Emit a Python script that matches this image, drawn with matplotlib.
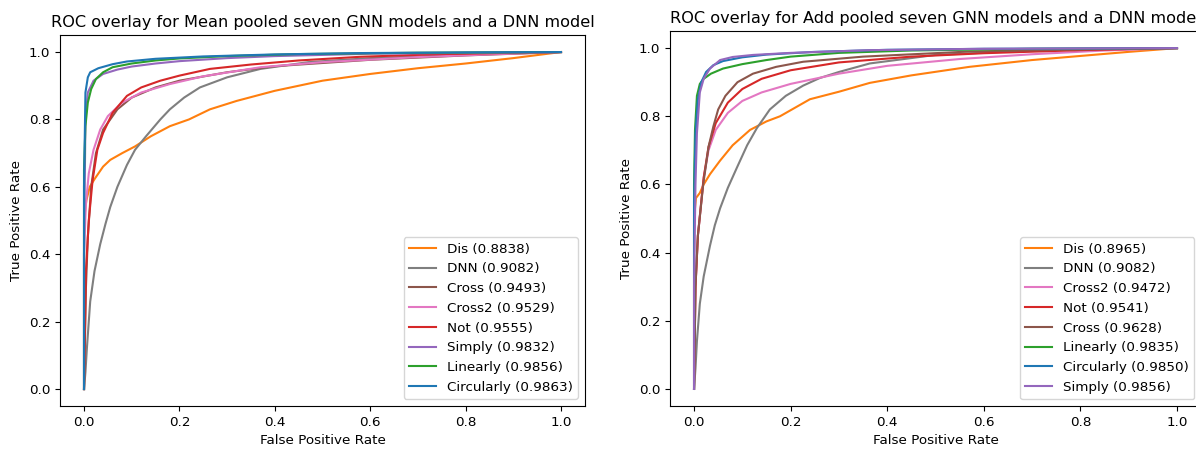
import matplotlib
matplotlib.use("Agg")
import matplotlib.pyplot as plt

plt.rcParams["font.size"] = 9.7
plt.rcParams["axes.titlesize"] = 11.6

# ---- Mean pooled (left) ----
mean_labels = ["Dis (0.8838)", "DNN (0.9082)", "Cross (0.9493)", "Cross2 (0.9529)",
               "Not (0.9555)", "Simply (0.9832)", "Linearly (0.9856)", "Circularly (0.9863)"]
mean_colors = ["#ff7f0e", "#7f7f7f", "#8c564b", "#e377c2", "#d62728", "#9467bd", "#2ca02c", "#1f77b4"]

mean_dis_fpr = [0, 0, 0.005, 0.012, 0.023, 0.04, 0.055, 0.08, 0.107, 0.14, 0.18, 0.22, 0.264, 0.32, 0.4, 0.5, 0.6, 0.7, 0.8, 0.9, 1.0]
mean_dis_tpr = [0, 0.5, 0.56, 0.6, 0.625, 0.66, 0.68, 0.70, 0.72, 0.75, 0.78, 0.80, 0.83, 0.855, 0.885, 0.915, 0.935, 0.952, 0.966, 0.982, 1.0]

mean_dnn_fpr = [0, 0.003, 0.006, 0.013, 0.022, 0.034, 0.045, 0.055, 0.07, 0.09, 0.107, 0.13, 0.16, 0.18, 0.21, 0.243, 0.30, 0.37, 0.47, 0.6, 0.8, 1.0]
mean_dnn_tpr = [0, 0.05, 0.12, 0.26, 0.35, 0.43, 0.49, 0.54, 0.6, 0.665, 0.71, 0.75, 0.80, 0.83, 0.865, 0.895, 0.925, 0.95, 0.97, 0.982, 0.992, 1.0]

mean_cross_fpr = [0, 0.004, 0.008, 0.015, 0.025, 0.04, 0.07, 0.1, 0.15, 0.2, 0.3, 0.4, 0.6, 0.8, 1.0]
mean_cross_tpr = [0, 0.3, 0.45, 0.6, 0.7, 0.77, 0.83, 0.865, 0.895, 0.915, 0.94, 0.958, 0.977, 0.99, 1.0]

mean_cross2_fpr = [0, 0, 0.004, 0.01, 0.02, 0.034, 0.05, 0.08, 0.12, 0.18, 0.25, 0.37, 0.5, 0.7, 0.85, 1.0]
mean_cross2_tpr = [0, 0.4, 0.55, 0.64, 0.71, 0.77, 0.81, 0.85, 0.88, 0.905, 0.928, 0.955, 0.97, 0.985, 0.993, 1.0]

mean_not_fpr = [0, 0.004, 0.01, 0.018, 0.028, 0.04, 0.06, 0.09, 0.12, 0.16, 0.2, 0.264, 0.35, 0.45, 0.58, 0.75, 1.0]
mean_not_tpr = [0, 0.35, 0.5, 0.62, 0.71, 0.76, 0.82, 0.87, 0.895, 0.915, 0.93, 0.95, 0.963, 0.975, 0.986, 0.994, 1.0]

mean_simply_fpr = [0, 0, 0.003, 0.008, 0.02, 0.04, 0.07, 0.1, 0.15, 0.2, 0.3, 0.4, 0.6, 1.0]
mean_simply_tpr = [0, 0.4, 0.8, 0.88, 0.915, 0.935, 0.948, 0.957, 0.966, 0.973, 0.982, 0.988, 0.995, 1.0]

mean_linearly_fpr = [0, 0, 0.003, 0.008, 0.015, 0.025, 0.04, 0.06, 0.1, 0.15, 0.2, 0.3, 0.45, 0.7, 1.0]
mean_linearly_tpr = [0, 0.65, 0.78, 0.85, 0.89, 0.92, 0.94, 0.955, 0.966, 0.975, 0.981, 0.988, 0.994, 0.998, 1.0]

mean_circ_fpr = [0, 0, 0.003, 0.008, 0.013, 0.03, 0.06, 0.09, 0.15, 0.25, 0.4, 0.58, 0.8, 1.0]
mean_circ_tpr = [0, 0.6, 0.88, 0.925, 0.94, 0.952, 0.964, 0.972, 0.98, 0.987, 0.993, 0.997, 0.999, 1.0]

# ---- Add pooled (right) ----
add_labels = ["Dis (0.8965)", "DNN (0.9082)", "Cross2 (0.9472)", "Not (0.9541)",
              "Cross (0.9628)", "Linearly (0.9835)", "Circularly (0.9850)", "Simply (0.9856)"]
add_colors = ["#ff7f0e", "#7f7f7f", "#e377c2", "#d62728", "#8c564b", "#2ca02c", "#1f77b4", "#9467bd"]

add_dis_fpr = [0, 0, 0.004, 0.012, 0.02, 0.033, 0.054, 0.08, 0.116, 0.15, 0.178, 0.24, 0.3, 0.364, 0.45, 0.57, 0.7, 0.8, 0.9, 1.0]
add_dis_tpr = [0, 0.5, 0.56, 0.575, 0.6, 0.63, 0.67, 0.715, 0.76, 0.785, 0.80, 0.85, 0.872, 0.898, 0.92, 0.945, 0.965, 0.977, 0.989, 1.0]

add_dnn_fpr = [0, 0.003, 0.006, 0.012, 0.02, 0.033, 0.043, 0.054, 0.07, 0.089, 0.11, 0.13, 0.157, 0.19, 0.226, 0.26, 0.3, 0.364, 0.5, 0.7, 1.0]
add_dnn_tpr = [0, 0.06, 0.14, 0.25, 0.33, 0.42, 0.48, 0.53, 0.59, 0.65, 0.715, 0.765, 0.82, 0.86, 0.89, 0.912, 0.93, 0.955, 0.98, 0.993, 1.0]

add_cross2_fpr = [0, 0.003, 0.008, 0.02, 0.03, 0.045, 0.07, 0.1, 0.14, 0.2, 0.3, 0.4, 0.55, 0.7, 0.85, 1.0]
add_cross2_tpr = [0, 0.3, 0.45, 0.62, 0.7, 0.76, 0.81, 0.845, 0.87, 0.895, 0.925, 0.948, 0.968, 0.982, 0.993, 1.0]

add_not_fpr = [0, 0.003, 0.008, 0.02, 0.03, 0.045, 0.07, 0.1, 0.14, 0.2, 0.3, 0.45, 0.6, 0.8, 1.0]
add_not_tpr = [0, 0.3, 0.45, 0.62, 0.71, 0.78, 0.84, 0.88, 0.91, 0.935, 0.958, 0.975, 0.985, 0.994, 1.0]

add_cross_fpr = [0, 0.003, 0.008, 0.019, 0.03, 0.04, 0.05, 0.065, 0.09, 0.122, 0.17, 0.226, 0.35, 0.57, 0.8, 1.0]
add_cross_tpr = [0, 0.3, 0.45, 0.6, 0.71, 0.77, 0.82, 0.86, 0.9, 0.925, 0.945, 0.96, 0.975, 0.99, 0.996, 1.0]

add_lin_fpr = [0, 0, 0.002, 0.006, 0.012, 0.02, 0.035, 0.06, 0.1, 0.15, 0.2, 0.3, 0.45, 0.7, 1.0]
add_lin_tpr = [0, 0.6, 0.76, 0.86, 0.895, 0.91, 0.925, 0.94, 0.953, 0.965, 0.975, 0.986, 0.993, 0.998, 1.0]

add_circ_fpr = [0, 0, 0.003, 0.008, 0.015, 0.025, 0.04, 0.06, 0.1, 0.15, 0.25, 0.4, 0.6, 1.0]
add_circ_tpr = [0, 0.55, 0.75, 0.85, 0.9, 0.93, 0.95, 0.962, 0.973, 0.981, 0.989, 0.995, 0.998, 1.0]

add_simply_fpr = [0, 0, 0.003, 0.006, 0.012, 0.02, 0.033, 0.054, 0.08, 0.122, 0.2, 0.364, 0.6, 1.0]
add_simply_tpr = [0, 0.3, 0.6, 0.75, 0.87, 0.91, 0.94, 0.965, 0.974, 0.98, 0.986, 0.994, 0.998, 1.0]

mean_fprs = [mean_dis_fpr, mean_dnn_fpr, mean_cross_fpr, mean_cross2_fpr, mean_not_fpr,
             mean_simply_fpr, mean_linearly_fpr, mean_circ_fpr]
mean_tprs = [mean_dis_tpr, mean_dnn_tpr, mean_cross_tpr, mean_cross2_tpr, mean_not_tpr,
             mean_simply_tpr, mean_linearly_tpr, mean_circ_tpr]
add_fprs = [add_dis_fpr, add_dnn_fpr, add_cross2_fpr, add_not_fpr, add_cross_fpr,
            add_lin_fpr, add_circ_fpr, add_simply_fpr]
add_tprs = [add_dis_tpr, add_dnn_tpr, add_cross2_tpr, add_not_tpr, add_cross_tpr,
            add_lin_tpr, add_circ_tpr, add_simply_tpr]

fig = plt.figure(figsize=(11.96, 4.49), dpi=100)
ax1 = fig.add_axes([0.0503, 0.096, 0.4387, 0.8256])
ax2 = fig.add_axes([0.5601, 0.0958, 0.4442, 0.835])

for ax, fprs, tprs, labels, colors, title in [
    (ax1, mean_fprs, mean_tprs, mean_labels, mean_colors,
     "ROC overlay for Mean pooled seven GNN models and a DNN model"),
    (ax2, add_fprs, add_tprs, add_labels, add_colors,
     "ROC overlay for Add pooled seven GNN models and a DNN model"),
]:
    for f, t, lab, c in zip(fprs, tprs, labels, colors):
        ax.plot(f, t, color=c, label=lab, lw=1.5)
    ax.set_xlabel("False Positive Rate")
    ax.set_ylabel("True Positive Rate")
    ax.set_title(title)
    ax.legend(loc="lower right")

fig.savefig("out.png", dpi=100)
